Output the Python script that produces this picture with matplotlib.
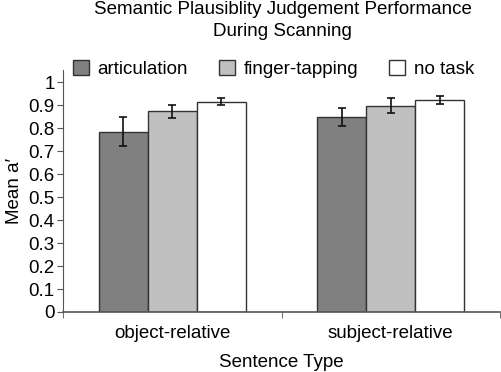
import matplotlib
matplotlib.use("Agg")
import matplotlib.pyplot as plt
import numpy as np

plt.rcParams['font.family'] = ['Liberation Sans', 'DejaVu Sans']

categories = ["object-relative", "subject-relative"]
series = ["articulation", "finger-tapping", "no task"]
values = {
    "articulation": [0.786, 0.850],
    "finger-tapping": [0.875, 0.898],
    "no task": [0.916, 0.923],
}
errors = {
    "articulation": [0.065, 0.040],
    "finger-tapping": [0.028, 0.033],
    "no task": [0.015, 0.016],
}
colors = {"articulation": "#808080", "finger-tapping": "#c0c0c0", "no task": "#ffffff"}
yticks = [0, 0.1, 0.2, 0.3, 0.4, 0.5, 0.6, 0.7, 0.8, 0.9, 1]
ytick_labels = ["0", "0.1", "0.2", "0.3", "0.4", "0.5", "0.6", "0.7", "0.8", "0.9", "1"]

FS = 13.5
fig = plt.figure(figsize=(5.01, 3.72), dpi=100)
ax = fig.add_axes([63/501, 60/372, 437/501, 242/372])

x = np.arange(len(categories))
width = 0.225
offsets = [-width, 0, width]
handles = []
for s, off in zip(series, offsets):
    b = ax.bar(x + off, values[s], width, color=colors[s], edgecolor="#333333",
               linewidth=1.0, label=s, zorder=2)
    ax.errorbar(x + off, values[s], yerr=errors[s], fmt="none", ecolor="#111111",
                elinewidth=1.2, capsize=3, capthick=1.2, zorder=3)
    handles.append(b)

ax.set_xlim(-0.5, 1.5)
ax.set_ylim(0, 1.054)
ax.set_yticks(yticks)
ax.set_yticklabels(ytick_labels, fontsize=FS)
ax.set_xticks(x)
ax.set_xticklabels(categories, fontsize=FS)
ax.set_xticks([-0.5, 0.5, 1.5], minor=True)
ax.tick_params(axis='x', which='major', length=0, pad=9)
ax.tick_params(axis='x', which='minor', length=4, direction='out', color='#555555')
ax.tick_params(axis='y', length=4, direction='out', color='#555555', pad=2)
for sp in ["top", "right"]:
    ax.spines[sp].set_visible(False)
ax.spines["left"].set_color("#555555")
ax.spines["bottom"].set_color("#555555")
ax.spines["bottom"].set_linewidth(1.2)

ax.set_ylabel("Mean a\u2032", fontsize=FS, labelpad=4)
ax.set_xlabel("Sentence Type", fontsize=FS, labelpad=9)

fig.text(0.564, 0.997, "Semantic Plausiblity Judgement Performance\nDuring Scanning",
         ha="center", va="top", fontsize=FS, linespacing=1.35)

leg = ax.legend(handles=handles, loc="center left", bbox_to_anchor=(0.022, 1.006),
                ncol=3, frameon=False, fontsize=FS, handlelength=0.85,
                handleheight=0.85, columnspacing=1.65, handletextpad=0.48,
                borderaxespad=0, borderpad=0)

fig.savefig("out.png", dpi=100)
